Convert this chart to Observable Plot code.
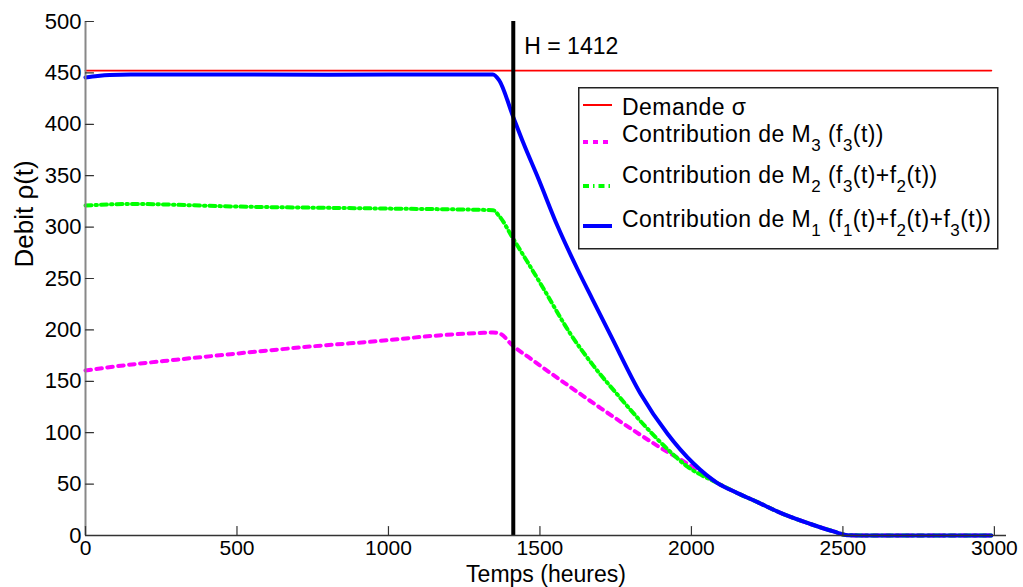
<!DOCTYPE html>
<html><head><meta charset="utf-8">
<script src="https://cdn.jsdelivr.net/npm/d3@7"></script>
<script src="https://cdn.jsdelivr.net/npm/@observablehq/plot@0.6"></script>
<style>
body{margin:0;background:#fff;font-family:"Liberation Sans",Arial,sans-serif;}
#wrap{position:relative;width:1023px;height:587px;overflow:hidden;}
#legend{position:absolute;left:578px;top:87px;}
</style></head><body><div id="wrap"></div>
<script>
// ---- data ----
const xTicks = [0, 500, 1000, 1500, 2000, 2500, 3000];
const yTicks = [0, 50, 100, 150, 200, 250, 300, 350, 400, 450, 500];
const xLabel = "Temps (heures)";
const yLabel = "Debit ρ(t)";
const hValue = 1412;
const hLabel = "H = 1412";

const demandT = [0, 2990];
const demandV = [452.3, 452.3];

const tailT = [2150, 2218, 2294, 2393, 2469, 2515, 2600, 2990];
const tailV = [41.5, 32.5, 22, 11.2, 4, 0.3, 0, 0];

const blueT = [0, 40, 80, 150, 400, 800, 1200, 1345, 1365, 1412, 1445, 1495, 1558, 1624, 1673, 1733, 1832, 1921, 2007, 2086];
const blueV = [445.5, 447, 448, 448.5, 448.5, 448.3, 448.5, 448.5, 443, 407, 382, 347, 301, 259, 230, 195, 138, 99, 70, 51];

const greenT = [0, 150, 500, 1000, 1345, 1365, 1413, 1459, 1512, 1601, 1677, 1756, 1842, 1921, 1987, 2086];
const greenV = [321, 322.5, 320, 318, 316.5, 311, 288, 266, 240, 196, 165, 137, 108, 84, 67, 51];

const magT = [0, 100, 300, 500, 750, 1000, 1139, 1300, 1345, 1370, 1409, 1469, 1535, 1600, 1700, 1800, 1900, 2000, 2086];
const magV = [160.5, 164.5, 171, 177, 184, 190, 194, 197, 197.5, 196, 185, 172, 158, 144.5, 124, 104, 85, 67.5, 51];

// ---- build tables ----
const toRows = (T, V) => T.map((t, i) => ({t, v: V[i]}));
const demand = toRows(demandT, demandV);
const m3 = toRows(magT.concat(tailT), magV.concat(tailV));
const m2 = toRows(greenT.concat(tailT), greenV.concat(tailV));
const m1 = toRows(blueT.concat(tailT), blueV.concat(tailV));

const font = '"Liberation Sans", Arial, sans-serif';
const tickShape = {draw(context, l) { context.moveTo(0, 0); context.lineTo(0, -l); }};

const chart = Plot.plot({
  width: 1023,
  height: 587,
  marginLeft: 85,
  marginRight: 17,
  marginTop: 21,
  marginBottom: 52,
  style: {fontFamily: font, background: "white", overflow: "visible"},
  x: {domain: [0, 3040]},
  y: {domain: [0, 500]},
  marks: [
    Plot.line(demand, {x: "t", y: "v", stroke: "#ff0000", strokeWidth: 1.8}),
    Plot.line(m3, {x: "t", y: "v", stroke: "#ff00ff", strokeWidth: 4, strokeDasharray: "5.5,5.5", curve: "monotone-x"}),
    Plot.line(m2, {x: "t", y: "v", stroke: "#00ff00", strokeWidth: 4, strokeDasharray: "6,4,1.5,4", curve: "monotone-x"}),
    Plot.line(m1, {x: "t", y: "v", stroke: "#0000ff", strokeWidth: 4, curve: "monotone-x"}),
    Plot.ruleX([hValue], {stroke: "black", strokeWidth: 4}),
    Plot.text([hLabel], {x: () => hValue, frameAnchor: "top", textAnchor: "start", dx: 11, dy: 16, fontSize: 23, fill: "black"}),
    Plot.ruleX([0], {stroke: "#888", strokeWidth: 2}),
    Plot.ruleY([0], {stroke: "#333", strokeWidth: 1.5}),
    Plot.vector(xTicks, {x: d => d, frameAnchor: "bottom", length: 9, rotate: 0, anchor: "start", shape: tickShape, stroke: "#333", strokeWidth: 1.2}),
    Plot.vector(yTicks, {y: d => d, frameAnchor: "left", length: 8, rotate: 90, anchor: "start", shape: tickShape, stroke: "#333", strokeWidth: 1.2}),
    Plot.axisX(xTicks, {tickSize: 0, tickPadding: 5, fontSize: 21, label: null, tickFormat: d3.format("d"), fill: "black"}),
    Plot.axisY(yTicks, {tickSize: 0, tickPadding: 4, fontSize: 22, label: null, tickFormat: d3.format("d"), fill: "black"}),
    Plot.text([xLabel], {frameAnchor: "bottom", dy: 46, fontSize: 23, fill: "black"}),
    Plot.text([yLabel], {frameAnchor: "left", rotate: -90, dx: -61, dy: -11, fontSize: 26, fill: "black"})
  ]
});
document.getElementById("wrap").appendChild(chart);

// ---- legend ----
const legendItems = [
  {parts: [["Demande σ", false]], color: "#ff0000", width: 2, dash: null, sy: 18, by: 28},
  {parts: [["Contribution de M", false], ["3", true], [" (f", false], ["3", true], ["(t))", false]], color: "#ff00ff", width: 4, dash: "5,5", sy: 55, by: 55},
  {parts: [["Contribution de M", false], ["2", true], [" (f", false], ["3", true], ["(t)+f", false], ["2", true], ["(t))", false]], color: "#00ff00", width: 4, dash: "6,4,1.5,4", sy: 99, by: 96},
  {parts: [["Contribution de M", false], ["1", true], [" (f", false], ["1", true], ["(t)+f", false], ["2", true], ["(t)+f", false], ["3", true], ["(t))", false]], color: "#0000ff", width: 4, dash: null, sy: 139, by: 140}
];
const lg = d3.select("#wrap").append("svg").attr("id", "legend")
  .attr("width", 421).attr("height", 163)
  .style("font-family", font);
lg.append("rect").attr("x", 0.75).attr("y", 0.75).attr("width", 419).attr("height", 161)
  .attr("fill", "white").attr("stroke", "#222").attr("stroke-width", 1.5);
legendItems.forEach(it => {
  lg.append("line").attr("x1", 5).attr("x2", 34).attr("y1", it.sy).attr("y2", it.sy)
    .attr("stroke", it.color).attr("stroke-width", it.width)
    .attr("stroke-dasharray", it.dash);
  const tx = lg.append("text").attr("x", 44).attr("y", it.by).attr("font-size", 23)
    .attr("letter-spacing", "0.45px").attr("fill", "black");
  let prevSub = false;
  it.parts.forEach(([s, sub]) => {
    const ts = tx.append("tspan").text(s);
    if (sub) ts.attr("font-size", 17).attr("dy", prevSub ? 0 : 9);
    else if (prevSub) ts.attr("dy", -9);
    prevSub = sub;
  });
});
</script>
</body></html>
